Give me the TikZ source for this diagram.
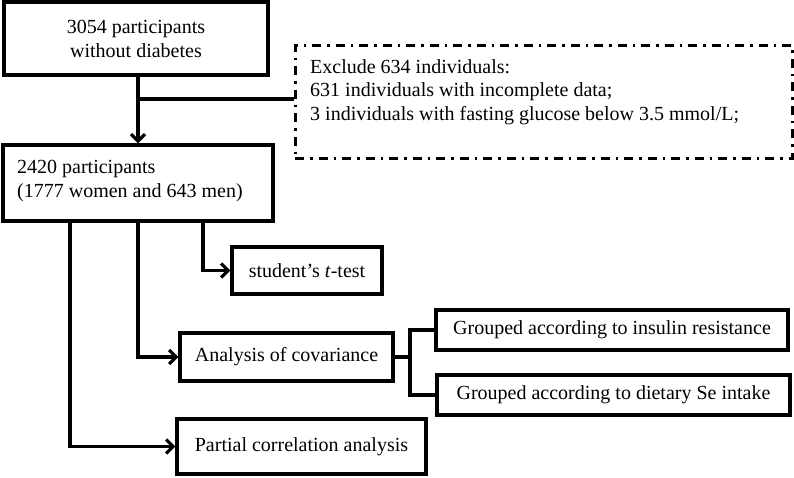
\documentclass[tikz,border=0pt]{standalone}
\usepackage{fontspec}
\setmainfont{Liberation Serif}
\usetikzlibrary{arrows.meta}
\begin{document}
\begin{tikzpicture}[x=1pt,y=-1pt,
  every node/.style={font=\fontsize{20}{24}\selectfont},
  box/.style={draw,line width=3.2pt,inner sep=0pt,align=center},
  dbox/.style={draw,line width=3pt,inner sep=0pt,dash pattern=on 9pt off 6pt on 2.5pt off 6pt},
  link/.style={line width=3.2pt},
  arr/.style={line width=3.2pt,-{Straight Barb[length=7pt,width=14pt]}}]
\useasboundingbox (0,0) rectangle (794,477);
\node[box,minimum width=264pt,minimum height=73pt] (b1) at (136,38.5) {3054 participants\\without diabetes};
\node[box,minimum width=270pt,minimum height=76pt] (b2) at (138,183) {};
\node[anchor=west,align=left,inner sep=0pt] (b2t) at (17,181) {2420 participants\\(1777 women and 643 men)};
\node[dbox,minimum width=497pt,minimum height=113pt] (ex) at (543.5,101.5) {};
\node[anchor=west,align=left,inner sep=0pt,font=\fontsize{20}{23.5}\selectfont] (ext) at (310,92) {Exclude 634 individuals:\\631 individuals with incomplete data;\\3 individuals with fasting glucose below 3.5 mmol/L;};
\node[box,minimum width=150pt,minimum height=47pt] (tt) at (307,270.5) {student's \textit{t}-test};
\node[box,minimum width=213pt,minimum height=48pt] (an) at (286.5,357) {Analysis of covariance};
\node[box,minimum width=249pt,minimum height=55pt] (pc) at (301.5,446.5) {Partial correlation analysis};
\node[box,minimum width=352pt,minimum height=40pt] (ins) at (612,330) {Grouped according to insulin resistance};
\node[box,minimum width=353pt,minimum height=40pt] (die) at (613.5,395) {Grouped according to dietary Se intake};
\coordinate (j) at (138,99);
\coordinate (s1) at (203,222);
\coordinate (s3) at (70,222);
\coordinate (br) at (410,357);
\draw[arr] (b2.north |- b1.south) -- (b2.north);
\draw[link] (j) -- (j -| ex.west);
\draw[arr] (s1) |- (tt.west);
\draw[arr] (b2.south) |- (an.west);
\draw[arr] (s3) |- (pc.west);
\draw[link] (an.east) -- (br);
\draw[link] (ins.west) -| (br) |- (die.west);
\end{tikzpicture}
\end{document}
